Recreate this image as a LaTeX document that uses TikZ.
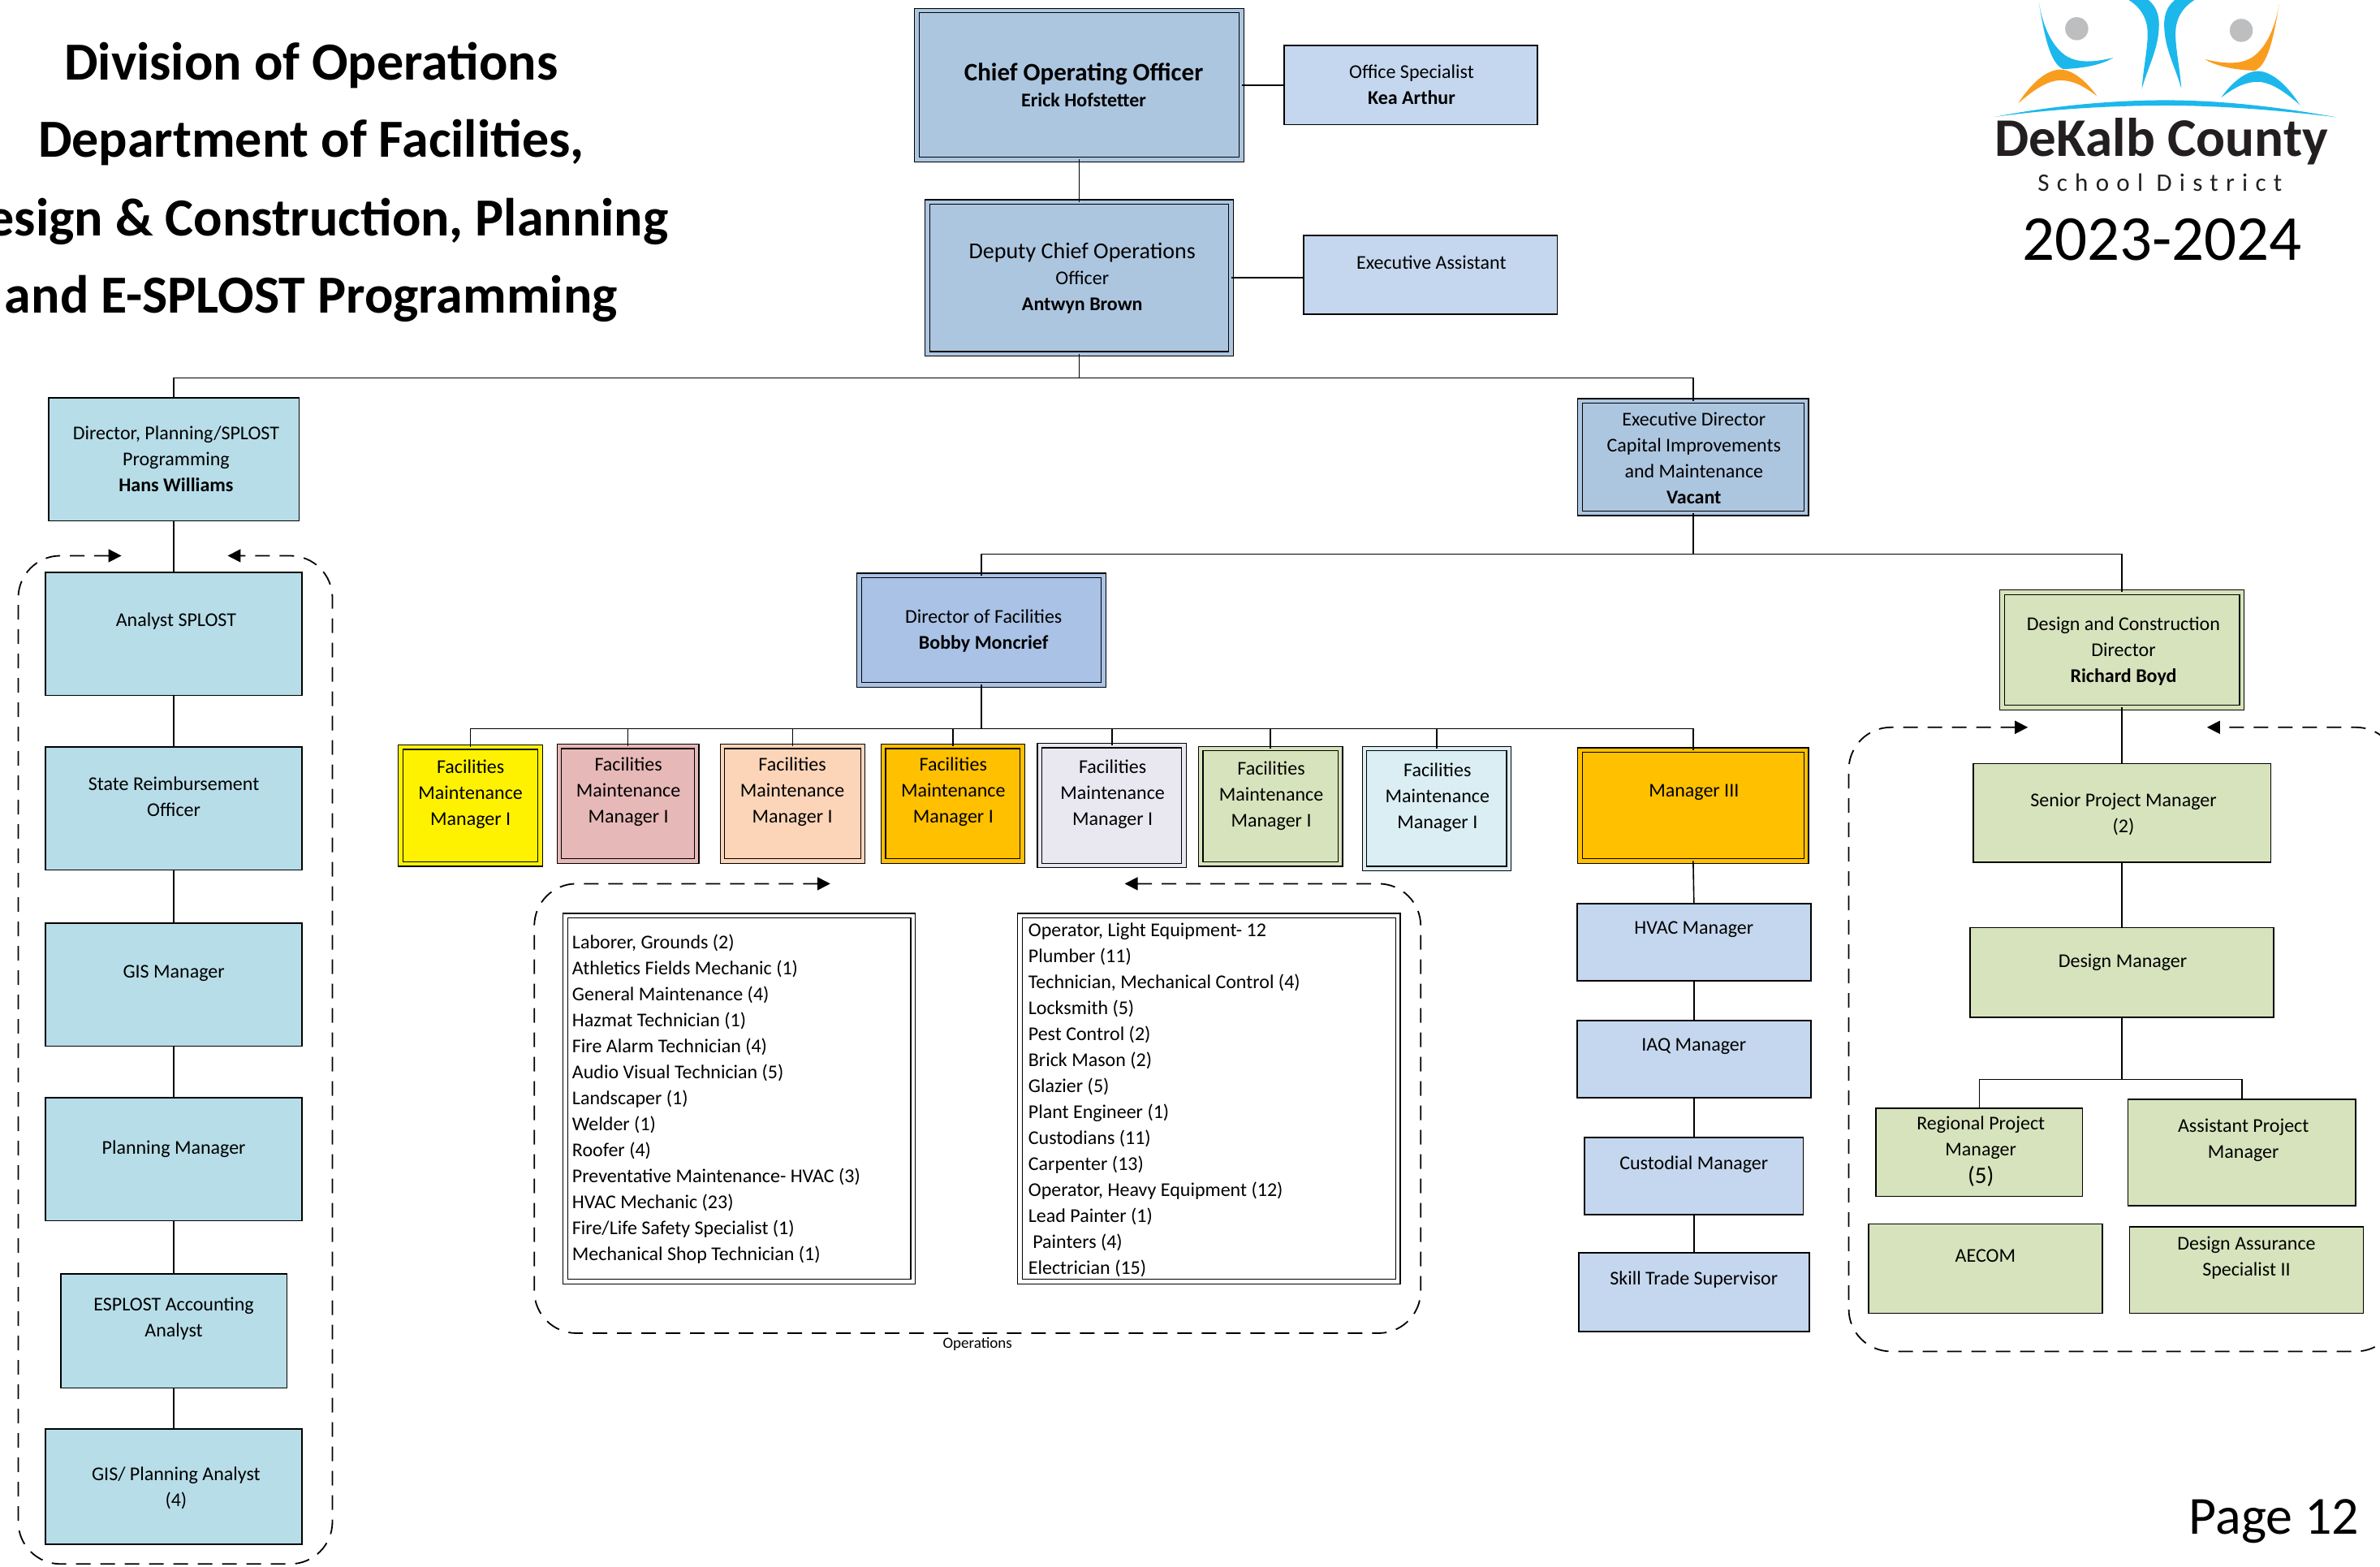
\documentclass[tikz,border=0pt]{standalone}
\usepackage{fontspec}
\setmainfont{Carlito}
\usetikzlibrary{arrows.meta}
\definecolor{cBlueA}{HTML}{ADC6E0}
\definecolor{cBlueB}{HTML}{C5D7EE}
\definecolor{cBlueC}{HTML}{A9C2E6}
\definecolor{cTeal}{HTML}{B7DDE8}
\definecolor{cGreen}{HTML}{D7E3BC}
\definecolor{cPink}{HTML}{E6B8B7}
\definecolor{cPeach}{HTML}{FCD5B9}
\definecolor{cOrange}{HTML}{FFC000}
\definecolor{cLav}{HTML}{E9E7F0}
\definecolor{cPale}{HTML}{DAEEF3}
\definecolor{cLogoBlue}{HTML}{1CB8EC}
\definecolor{cLogoOr}{HTML}{F99D1F}
\definecolor{cLogoGr}{HTML}{BCBEC0}
\definecolor{cLogoTx}{HTML}{231F20}
\tikzset{
  box/.style={draw=black,line width=.8pt,inner sep=0pt,outer sep=0pt},
  dbl/.style={draw=black,line width=.6pt,double=#1,double distance=2.2pt,fill=#1,inner sep=0pt,outer sep=0pt},
  txt/.style={inner sep=0pt,outer sep=0pt,align=center,font=\fontsize{12}{16}\selectfont},
  link/.style={draw=black,line width=.8pt},
  grp/.style={draw=black,line width=.9pt,dash pattern=on 9pt off 6pt,rounded corners=26pt,{Triangle[length=8pt,width=8pt]}-{Triangle[length=8pt,width=8pt]}},
  lst/.style={inner sep=0pt,outer sep=0pt,align=left,anchor=west,font=\fontsize{12}{16}\selectfont},
  ttl/.style={inner sep=0pt,outer sep=0pt,font=\fontsize{33}{40}\selectfont\bfseries}
}
% #1 name, #2 box style, #3-#6 left top right bottom, #7 #8 text centre, #9 text
\newcommand{\bx}[9]{%
  \node[#2,minimum width={(#5-#3)*0.935pt},minimum height={(#6-#4)*0.935pt}] (#1) at ({(#3+#5)/2},{(#4+#6)/2}) {};
  \node[txt] (#1t) at (#7,#8) {#9};
}
\begin{document}
\begin{tikzpicture}[x=0.93495pt,y=-0.93508pt]
\useasboundingbox (0,0) rectangle (1568,1032);

% title
\node[ttl] (t1) at (205,43) {Division of Operations};
\node[ttl] (t2) at (205,94) {Department of Facilities,};
\node[ttl] (t3) at (205,146) {Design \& Construction, Planning};
\node[ttl] (t4) at (205,197) {and E-SPLOST Programming};

% logo
\fill[cLogoGr] (1368.2,18.9) circle (7.6);
\fill[cLogoGr] (1476.6,20) circle (7.6);
\fill[cLogoBlue] (1343.3,1.8) .. controls (1347,25) and (1351,42) .. (1359.3,45.5) .. controls (1372,45) and (1384,43) .. (1392.3,38) .. controls (1380,41) and (1368,42) .. (1360,36) .. controls (1352,30) and (1346,18) .. (1343.3,1.8) -- cycle;
\fill[cLogoOr] (1329.6,68.1) .. controls (1338,55) and (1348,46) .. (1357.4,45.8) .. controls (1366,46) and (1375,54) .. (1381.5,63.3) .. controls (1372,56) and (1365,52.9) .. (1357.4,52.9) .. controls (1349,53) and (1340,59) .. (1329.6,68.1) -- cycle;
\begin{scope}[shift={(2844.8,1)},xscale=-1]
\fill[cLogoOr] (1343.3,1.8) .. controls (1347,25) and (1351,42) .. (1359.3,45.5) .. controls (1372,45) and (1384,43) .. (1392.3,38) .. controls (1380,41) and (1368,42) .. (1360,36) .. controls (1352,30) and (1346,18) .. (1343.3,1.8) -- cycle;
\fill[cLogoBlue] (1329.6,68.1) .. controls (1338,55) and (1348,46) .. (1357.4,45.8) .. controls (1366,46) and (1375,54) .. (1381.5,63.3) .. controls (1372,56) and (1365,52.9) .. (1357.4,52.9) .. controls (1349,53) and (1340,59) .. (1329.6,68.1) -- cycle;
\end{scope}
\fill[cLogoBlue] (1400.7,-1) -- (1414,-1) .. controls (1420,3) and (1422.4,9) .. (1422.4,16) .. controls (1422.4,32) and (1415,44) .. (1411.1,58.5) .. controls (1412,45) and (1415,32) .. (1414.9,22) .. controls (1414.9,12) and (1410,4) .. (1400.7,-1) -- cycle;
\begin{scope}[shift={(2848.2,0)},xscale=-1]
\fill[cLogoBlue] (1400.7,-1) -- (1414,-1) .. controls (1420,3) and (1422.4,9) .. (1422.4,16) .. controls (1422.4,32) and (1415,44) .. (1411.1,58.5) .. controls (1412,45) and (1415,32) .. (1414.9,22) .. controls (1414.9,12) and (1410,4) .. (1400.7,-1) -- cycle;
\end{scope}
\fill[cLogoBlue] (1314.1,77) .. controls (1350,70) and (1390,66) .. (1427,66) .. controls (1465,66) and (1505,71) .. (1539.1,77.2) .. controls (1505,73) and (1465,69.5) .. (1427,69.5) .. controls (1390,69.5) and (1350,72) .. (1314.1,77) -- cycle;
\node[inner sep=0pt,text=cLogoTx,font=\fontsize{33.5}{40}\selectfont\bfseries] (lg1) at (1424,93) {DeKalb County};
\node[inner sep=0pt,text=cLogoTx,font=\fontsize{15.5}{18}\selectfont\addfontfeature{LetterSpace=30}] (lg2) at (1423,120) {School District};
\node[inner sep=0pt,font=\fontsize{39.5}{46}\selectfont] (yr) at (1424.5,158) {2023-2024};
\node[inner sep=0pt,anchor=west,font=\fontsize{33}{40}\selectfont] (pg) at (1442,1002) {Page 12};

% top level
\bx{coo}{dbl=cBlueA}{604}{7}{818}{105}{714}{56}{\fontsize{15.5}{22.5}\selectfont\textbf{Chief Operating Officer}\\\textbf{Erick Hofstetter}}
\bx{off}{box,fill=cBlueB}{846}{30}{1013}{82}{930}{56}{Office Specialist\\\textbf{Kea Arthur}}
\bx{dep}{dbl=cBlueA}{611}{133}{811}{233}{713}{183}{\fontsize{14}{19.2}\selectfont Deputy Chief Operations\\Officer\\\textbf{Antwyn Brown}}
\bx{ea}{box,fill=cBlueB}{859}{155}{1026}{207}{943}{173}{Executive Assistant}

% second level
\bx{dirp}{box,fill=cTeal}{32}{262}{197}{343}{116}{302}{Director, Planning/SPLOST\\Programming\\\textbf{Hans Williams}}
\bx{exd}{dbl=cBlueA}{1041}{264}{1190}{338}{1116}{301.5}{Executive Director\\Capital Improvements\\and Maintenance\\\textbf{Vacant}}

% planning chain
\bx{ana}{box,fill=cTeal}{30}{377}{199}{458}{116}{409}{Analyst SPLOST}
\bx{srb}{box,fill=cTeal}{30}{492}{199}{573}{114.5}{524.5}{State Reimbursement\\Officer}
\bx{gis}{box,fill=cTeal}{30}{608}{199}{689}{114.5}{641}{GIS Manager}
\bx{plm}{box,fill=cTeal}{30}{723}{199}{804}{114.5}{757}{Planning Manager}
\bx{esp}{box,fill=cTeal}{40}{839}{189}{914}{114.5}{868.5}{ESPLOST Accounting\\Analyst}
\bx{gpa}{box,fill=cTeal}{30}{941}{199}{1017}{116}{980}{GIS/ Planning Analyst\\(4)}

% third level
\bx{dirf}{dbl=cBlueC}{566}{379}{727}{451}{648}{415.5}{Director of Facilities\\\textbf{Bobby Moncrief}}
\bx{dsd}{dbl=cGreen}{1319}{390}{1477}{466}{1399}{429}{Design and Construction\\Director\\\textbf{Richard Boyd}}

% facilities managers
\bx{fa}{dbl=yellow}{264}{492}{356}{569}{310}{523}{Facilities\\Maintenance\\Manager I}
\bx{fb}{dbl=cPink}{368.5}{491.5}{459}{567}{414}{521.5}{Facilities\\Maintenance\\Manager I}
\bx{fc}{dbl=cPeach}{476}{491.5}{568.5}{567}{522}{521.5}{Facilities\\Maintenance\\Manager I}
\bx{fd}{dbl=cOrange}{582}{491.5}{673.5}{567}{628}{521.5}{Facilities\\Maintenance\\Manager I}
\bx{fe}{dbl=cLav}{685}{491}{780}{570}{733}{523}{Facilities\\Maintenance\\Manager I}
\bx{ff}{dbl=cGreen}{791}{493}{883}{569}{837.5}{524}{Facilities\\Maintenance\\Manager I}
\bx{fg}{dbl=cPale}{899}{493}{994}{572}{947}{525}{Facilities\\Maintenance\\Manager I}
\bx{mg3}{dbl=cOrange}{1041}{494}{1190}{567}{1116}{522}{Manager III}

% facilities right chain
\bx{hvac}{box,fill=cBlueB}{1039}{595}{1193}{646}{1116}{612}{HVAC Manager}
\bx{iaq}{box,fill=cBlueB}{1039}{672}{1193}{723}{1116}{689}{IAQ Manager}
\bx{cust}{box,fill=cBlueB}{1044}{749}{1188}{800}{1116}{767}{Custodial Manager}
\bx{skl}{box,fill=cBlueB}{1040}{825}{1192}{877}{1116}{843}{Skill Trade Supervisor}

% staff lists
\node[dbl=white,minimum width={229*0.935pt},minimum height={241*0.935pt}] (la) at (487,723.5) {};
\node[lst] (lat) at (377,724) {Laborer, Grounds (2)\\Athletics Fields Mechanic (1)\\General Maintenance (4)\\Hazmat Technician (1)\\Fire Alarm Technician (4)\\Audio Visual Technician (5)\\Landscaper (1)\\Welder (1)\\Roofer (4)\\Preventative Maintenance- HVAC (3)\\HVAC Mechanic (23)\\Fire/Life Safety Specialist (1)\\Mechanical Shop Technician (1)};
\node[dbl=white,minimum width={249*0.935pt},minimum height={241*0.935pt}] (lb) at (796.5,723.5) {};
\node[lst] (lbt) at (677.5,724.5) {Operator, Light Equipment- 12\\Plumber (11)\\Technician, Mechanical Control (4)\\Locksmith (5)\\Pest Control (2)\\Brick Mason (2)\\Glazier (5)\\Plant Engineer (1)\\Custodians (11)\\Carpenter (13)\\Operator, Heavy Equipment (12)\\Lead Painter (1)\\\ Painters (4)\\Electrician (15)};
\node[inner sep=0pt,font=\fontsize{9.5}{11}\selectfont] (ops) at (644,885) {Operations};

% design and construction
\bx{spm}{box,fill=cGreen}{1300}{503}{1496}{568}{1399}{536.5}{Senior Project Manager\\(2)}
\bx{dmg}{box,fill=cGreen}{1298}{611}{1498}{670}{1398.5}{634}{Design Manager}
\bx{rpm}{box,fill=cGreen}{1236}{730}{1372}{788}{1305}{749}{Regional Project\\Manager}
\node[txt,font=\fontsize{14.5}{16}\selectfont] (rpm5) at (1305,775) {(5)};
\bx{apm}{box,fill=cGreen}{1402}{724}{1552}{794}{1478}{751}{Assistant Project\\Manager}
\bx{aec}{box,fill=cGreen}{1231}{806}{1385}{865}{1308}{827}{AECOM}
\bx{das}{box,fill=cGreen}{1403}{808}{1557}{865}{1480}{828.5}{Design Assurance\\Specialist II}

% connectors
\coordinate (b1) at (711,249);
\coordinate (b2) at (1115.5,365);
\coordinate (b3) at (646.5,480);
\coordinate (b4) at (1398,711);
\draw[link] (coo.south) -- (dep.north);
\draw[link] (coo.east) -- (off.west);
\draw[link] (dep.east) -- (dep.east -| ea.west);
\draw[link] (dep.south) -- (b1);
\draw[link] (b1) -| (dirp.north);
\draw[link] (b1) -| (exd.north);
\draw[link] (dirp.south) -- (ana.north);
\draw[link] (ana.south) -- (srb.north);
\draw[link] (srb.south) -- (gis.north);
\draw[link] (gis.south) -- (plm.north);
\draw[link] (plm.south) -- (esp.north);
\draw[link] (esp.south) -- (gpa.north);
\draw[link] (exd.south) -- (b2);
\draw[link] (b2) -| (dirf.north);
\draw[link] (b2) -| (dsd.north);
\draw[link] (dirf.south) -- (b3);
\foreach \n in {fa,fb,fc,fd,fe,ff,fg,mg3} {\draw[link] (b3) -| (\n.north);}
\draw[link] (mg3.south) -- (hvac.north);
\draw[link] (hvac.south) -- (iaq.north);
\draw[link] (iaq.south) -- (cust.north);
\draw[link] (cust.south) -- (skl.north);
\draw[link] (dsd.south) -- (spm.north);
\draw[link] (spm.south) -- (dmg.north);
\draw[link] (dmg.south) -- (b4);
\draw[link] (b4) -| (rpm.north);
\draw[link] (b4) -| (apm.north);

% dashed groups
\coordinate (g1a) at (80,366);
\coordinate (g1b) at (150,366);
\coordinate (g2a) at (547,582);
\coordinate (g2b) at (741,582);
\coordinate (g3a) at (1336,479);
\coordinate (g3b) at (1454,479);
\draw[grp] (g1a) -- (12,366) -- (12,1030) -- (219,1030) -- (219,366) -- (g1b);
\draw[grp] (g2a) -- (352,582) -- (352,878) -- (936,878) -- (936,582) -- (g2b);
\draw[grp] (g3a) -- (1218,479) -- (1218,890) -- (1580,890) -- (1580,479) -- (g3b);
\end{tikzpicture}
\end{document}
